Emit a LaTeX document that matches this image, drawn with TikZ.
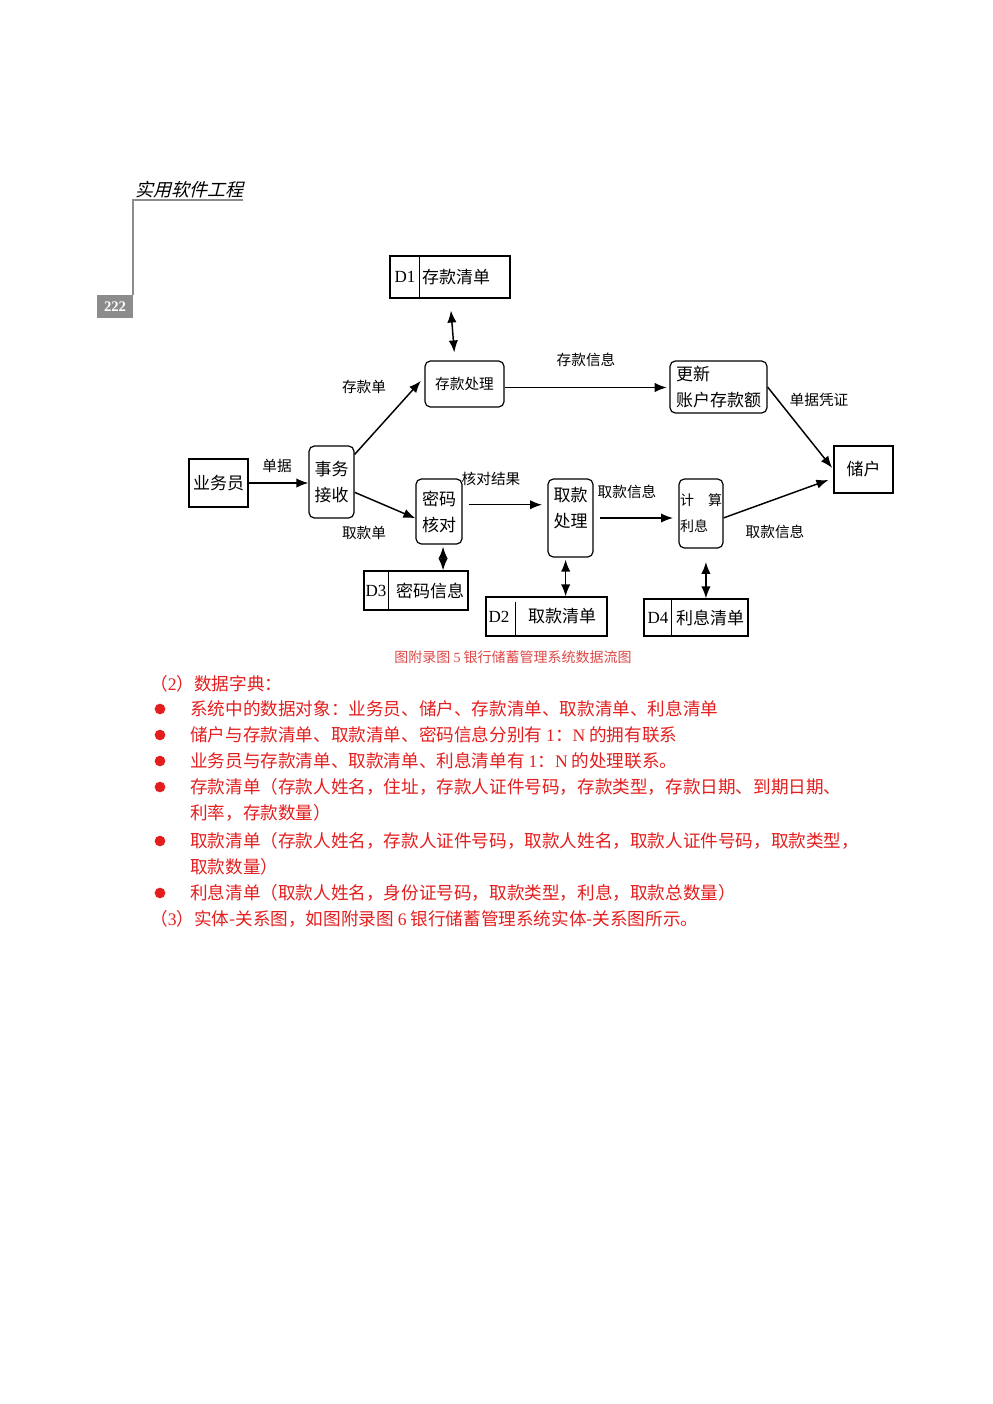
\documentclass[tikz,border=0pt]{standalone}
\usepackage{fontspec}
\usetikzlibrary{arrows.meta}
\setmainfont{Noto Sans CJK SC}
\newfontfamily\latinfont{Liberation Serif}
\newfontfamily\headfont[FakeSlant=0.25]{Noto Sans CJK SC}
\definecolor{pagered}{RGB}{228,30,30}
\definecolor{capred}{RGB}{222,72,72}
\definecolor{headgray}{RGB}{140,140,140}
\newcommand{\boxfont}{\fontsize{12.75}{19.5}\selectfont}
\newcommand{\labfont}{\fontsize{11}{13}\selectfont}
\newcommand{\bodyfont}{\fontsize{13.2}{19.5}\selectfont}
\tikzset{
  proc/.style={draw, rounded corners=4pt, line width=0.9pt, inner sep=0pt, font=\boxfont, align=left},
  ent/.style={draw, line width=0.9pt, inner sep=0pt, font=\boxfont},
  store/.style={draw, line width=0.9pt, inner sep=0pt},
  flow/.style={-{Latex[length=9pt,width=7pt]}, line width=1.1pt},
  dflow/.style={{Latex[length=9pt,width=7pt]}-{Latex[length=9pt,width=7pt]}, line width=1.1pt},
  lab/.style={inner sep=0.75pt, font=\labfont},
  txtline/.style={anchor=west, inner sep=0pt, text=pagered, font=\bodyfont},
  dot/.style={circle, fill=pagered, inner sep=0pt, minimum size=8pt}
}
\begin{document}
\begin{tikzpicture}[x=0.75pt,y=0.75pt,yscale=-1,xscale=1]
    \fill[white] (0,0) rectangle (993,1404);
    \useasboundingbox (0,0) rectangle (993,1404);

    % Page head
    \node (head) at (189,190) [inner sep=0pt, font=\headfont\fontsize{13.5}{16}\selectfont] {实用软件工程};
    \draw[headgray, line width=1.2pt] (243,200) -- (133,200) -- (133,295);
    \node (pgno) at (115,306.5) [fill=headgray, minimum width=27pt, minimum height=17.25pt, inner sep=0pt, text=white, font=\latinfont\bfseries\fontsize{11}{12}\selectfont] {222};

    %Shape: Rectangle [D1]
    \node (d1) at (450,277) [store, minimum width=90pt, minimum height=31.5pt] {};
    \draw[line width=0.9pt] ([xshift=22.5pt]d1.north west) -- ([xshift=22.5pt]d1.south west);
    \node (d1id) at (405,277) [font=\latinfont\boxfont] {D1};
    \node (d1name) at (456,277) [font=\boxfont] {存款清单};
    %Shape: Rectangle [D3]
    \node (d3) at (416,590.5) [store, minimum width=78pt, minimum height=29.25pt] {};
    \draw[line width=0.9pt] ([xshift=18.75pt]d3.north west) -- ([xshift=18.75pt]d3.south west);
    \node (d3id) at (376,590.5) [font=\latinfont\boxfont] {D3};
    \node (d3name) at (430,590.5) [font=\boxfont] {密码信息};
    %Shape: Rectangle [D2]
    \node (d2) at (546.5,616.5) [store, minimum width=90.75pt, minimum height=29.25pt] {};
    \draw[line width=0.9pt] ([xshift=22.5pt,yshift=4pt]d2.north west) -- ([xshift=22.5pt]d2.south west);
    \node (d2id) at (499,617) [font=\latinfont\boxfont] {D2};
    \node (d2name) at (562,616.5) [font=\boxfont] {取款清单};
    %Shape: Rectangle [D4]
    \node (d4) at (696,617.5) [store, minimum width=78pt, minimum height=27.75pt] {};
    \draw[line width=0.9pt] ([xshift=21pt]d4.north west) -- ([xshift=21pt]d4.south west);
    \node (d4id) at (658,617.5) [font=\latinfont\boxfont] {D4};
    \node (d4name) at (710,617.5) [font=\boxfont] {利息清单};

    %Shape: Rectangle [entities]
    \node (ywy) at (218.5,483) [ent, minimum width=44.25pt, minimum height=36pt] {业务员};
    \node (ch) at (863.5,469.5) [ent, minimum width=44.25pt, minimum height=35.25pt] {储户};

    %Shape: Rounded Rectangle [processes]
    \node (jw) at (331.5,482) [proc, minimum width=33.75pt, minimum height=54pt] {事务\\接收};
    \node (ck) at (464.5,384) [proc, minimum width=59.25pt, minimum height=34.5pt, font=\labfont] {存款处理};
    \node (gx) at (718.5,387) [proc, minimum width=72.75pt, minimum height=39pt] {更新\\账户存款额};
    \node (mm) at (439,511.5) [proc, minimum width=34.5pt, minimum height=48.75pt] {密码\\核对};
    \node (qk) at (570.5,518) [proc, minimum width=33.75pt, minimum height=58.5pt] {取款\\处理\\[-3.5pt]};
    \node (js) at (701,513.5) [proc, minimum width=33pt, minimum height=51.75pt, font=\fontsize{10.5}{19.5}\selectfont] {计\hspace{1em}算\\利息};

    % Text Node
    \node (l1) at (277,466) [lab] {单据};
    \node (l2) at (364,387) [lab] {存款单};
    \node (l3) at (364,533) [lab] {取款单};
    \node (l4) at (586,360) [lab] {存款信息};
    \node (l5) at (819,400) [lab] {单据凭证};
    \node (l6) at (491,479) [lab] {核对结果};
    \node (l7) at (627,492) [lab] {取款信息};
    \node (l8) at (775,532) [lab] {取款信息};

    %Straight Lines [flows]
    \draw[flow] (ywy.east) -- (ywy.east -| jw.west);
    \draw[flow, shorten >=4pt] (jw.50) -- (ck.170);
    \draw[flow] (jw.-24) -- (mm.196);
    \draw[flow, shorten >=2pt] (ck.-5) -- (ck.-5 -| gx.west);
    \draw[flow, shorten >=1.5pt] (gx.east) -- (ch.west);
    \draw[flow, shorten <=4.5pt, shorten >=4pt] (mm.16) -- (mm.16 -| qk.west);
    \draw[flow, shorten <=5pt, shorten >=4pt] (qk.east) -- (qk.east -| js.west);
    \draw[flow, shorten >=4pt] (js.-11) -- (ch.196);
    \draw[dflow, shorten <=9pt, shorten >=6pt] (d1.south) -- (ck.112);
    \draw[dflow, shorten <=1.5pt] (mm.-83) -- (mm.-83 |- d3.north);
    \draw[dflow, shorten <=1.5pt] (qk.-97) -- (qk.-97 |- d2.north);
    \draw[dflow, shorten <=10pt] (js.-82) -- (js.-82 |- d4.north);

    % Caption
    \node (cap) at (513,657) [inner sep=0pt, text=capred, font=\fontsize{10.5}{12}\selectfont] {图附录图 {\latinfont 5} 银行储蓄管理系统数据流图};

    % Text Node [data dictionary]
    \node (t2) at (150,684) [txtline] {（{\latinfont 2}）数据字典：};
    \node (b1) at (160,709) [dot] {};
    \node (t3) at (190,709) [txtline] {系统中的数据对象：业务员、储户、存款清单、取款清单、利息清单};
    \node (b2) at (160,735) [dot] {};
    \node (t4) at (190,735) [txtline] {储户与存款清单、取款清单、密码信息分别有 {\latinfont 1}：{\latinfont N} 的拥有联系};
    \node (b3) at (160,761) [dot] {};
    \node (t5) at (190,761) [txtline] {业务员与存款清单、取款清单、利息清单有 {\latinfont 1}：{\latinfont N} 的处理联系。};
    \node (b4) at (160,787) [dot] {};
    \node (t6) at (190,787) [txtline] {存款清单（存款人姓名，住址，存款人证件号码，存款类型，存款日期、到期日期、};
    \node (t7) at (190,813) [txtline] {利率，存款数量）};
    \node (b5) at (160,841) [dot] {};
    \node (t8) at (190,841) [txtline] {取款清单（存款人姓名，存款人证件号码，取款人姓名，取款人证件号码，取款类型，};
    \node (t9) at (190,867) [txtline] {取款数量）};
    \node (b6) at (160,893) [dot] {};
    \node (t10) at (190,893) [txtline] {利息清单（取款人姓名，身份证号码，取款类型，利息，取款总数量）};
    \node (t11) at (150,919) [txtline] {（{\latinfont 3}）实体-关系图，如图附录图 {\latinfont 6} 银行储蓄管理系统实体-关系图所示。};
\end{tikzpicture}
\end{document}
